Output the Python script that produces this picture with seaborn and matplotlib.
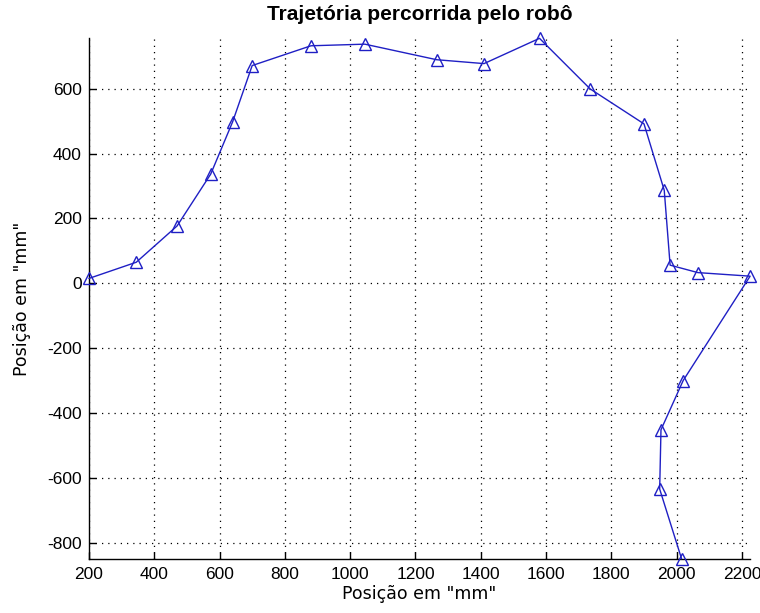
import numpy as np
import pandas as pd
import matplotlib
matplotlib.use("Agg")
import matplotlib.pyplot as plt
import seaborn as sns

# trajectory points (mm)
pos_x = [200, 345, 470, 573, 640, 700, 880, 1045, 1265, 1410, 1580,
         1735, 1900, 1962, 1980, 2065, 2225, 2020, 1952, 1948, 2015]
pos_y = [15, 65, 177, 337, 498, 672, 733, 738, 690, 678, 756,
         600, 492, 287, 56, 33, 22, -300, -452, -635, -850]

x_ticks = list(range(200, 2201, 200))
y_ticks = list(range(-800, 601, 200))

sns.set_style("white")
plt.rcParams['font.family'] = ['Liberation Sans', 'DejaVu Sans']
plt.rcParams['axes.unicode_minus'] = False
plt.rcParams['text.color'] = 'black'
plt.rcParams['axes.labelcolor'] = 'black'

df = pd.DataFrame({'x': pos_x, 'y': pos_y, 'step': range(len(pos_x))})

fig = plt.figure(figsize=(7.6, 6.13), dpi=100)
ax = fig.add_axes([0.117, 0.088, 0.870, 0.850])

line_col = '#1f1fc4'
sns.lineplot(data=df, x='x', y='y', sort=False, estimator=None, ax=ax,
             color=line_col, linewidth=1.0, marker='^', markersize=8.5,
             markerfacecolor='none', markeredgecolor=line_col,
             markeredgewidth=1.0, clip_on=False, zorder=3)

ax.set_xlim(min(pos_x), max(pos_x))
ax.set_ylim(min(pos_y) - 1, max(pos_y) + 1)
ax.set_xticks(x_ticks)
ax.set_yticks(y_ticks)
ax.tick_params(direction='in', length=5, width=1, labelsize=12.5, colors='black',
               bottom=True, left=True)
ax.tick_params(axis='x', pad=6)
ax.tick_params(axis='y', pad=5)
ax.grid(True, linestyle=(0, (1, 4)), color='black', linewidth=0.9)

for side in ['top', 'right']:
    ax.spines[side].set_visible(False)
for side in ['left', 'bottom']:
    ax.spines[side].set_color('black')
    ax.spines[side].set_linewidth(1.0)

ax.set_title('Trajetória percorrida pelo robô', fontsize=15, fontweight='bold',
             color='black', pad=13)
ax.set_xlabel('Posição em "mm"', fontsize=12.5, family='DejaVu Sans', labelpad=2)
ax.set_ylabel('Posição em "mm"', fontsize=12.5, family='DejaVu Sans', labelpad=12)

fig.savefig('out.png', dpi=100)
plt.close(fig)
